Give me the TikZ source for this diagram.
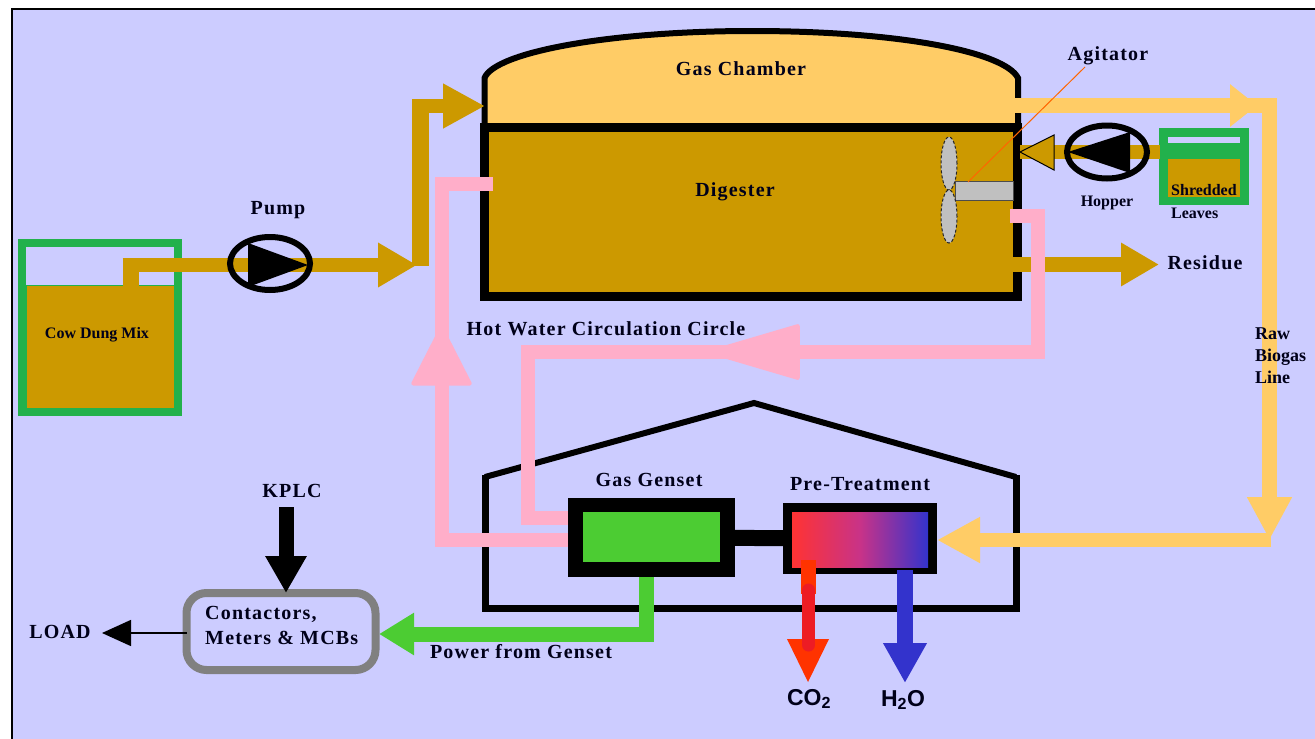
\documentclass[tikz,border=0pt]{standalone}
\usepackage{fontspec}
\setmainfont{Liberation Serif}
\setsansfont{Liberation Sans}
\usetikzlibrary{arrows.meta,positioning,shapes.geometric,calc}
\definecolor{backColor}{HTML}{CCCCFF}
\definecolor{dungColor}{HTML}{CC9900}
\definecolor{gasColor}{HTML}{FFCC66}
\definecolor{tankColor}{HTML}{22B14C}
\definecolor{powerColor}{HTML}{4CCC33}
\definecolor{hotColor}{HTML}{FFAEC9}
\definecolor{fireColor}{HTML}{FF3300}
\definecolor{redColor}{HTML}{ED1C24}
\definecolor{waterColor}{HTML}{3333CC}
\definecolor{bladeColor}{HTML}{C0C0C0}
\definecolor{mixColor}{HTML}{C83388}
\newfontface\spacedFont[LetterSpace=6]{Liberation Serif Bold}
\tikzset{
	lab/.style={font=\fontsize{20}{25}\spacedFont, inner sep=0pt, text=black!90!blue},
	small lab/.style={lab, font=\fontsize{16}{22}\selectfont\bfseries},
	raw lab/.style={lab, font=\fontsize{18}{22}\selectfont\bfseries},
	gas lab/.style={lab, font=\fontsize{23}{25}\selectfont\sffamily\bfseries},
	box/.style={rectangle, inner sep=0pt, outer sep=0pt},
	pump/.style={ellipse, draw=black, line width=6pt, minimum width=80pt, minimum height=53pt, inner sep=0pt},
	blade/.style={ellipse, draw=black!85, fill=bladeColor, line width=1pt, densely dashed, minimum width=16pt, minimum height=53pt, inner sep=0pt},
	pipe/.style={line width=#1, line join=miter},
	head/.style args={#1 by #2}{-{Triangle[length=#1,width=#2]}},
	soft head/.style args={#1 by #2}{-{Triangle[length=#1,width=#2,round,line width=4pt]}}
}
\begin{document}
\begin{tikzpicture}[x=1pt,y=-1pt]
	\useasboundingbox (0,0) rectangle (1315,739);
	\path[fill=backColor, draw=black, line width=2pt] (12,9) rectangle (1325,749);
	% tanks
	\node[box, draw=tankColor, line width=8pt, minimum width=156pt, minimum height=169pt] at (100,327.5) (cowTank) {};
	\node[box, fill=dungColor, draw=tankColor, line width=.5pt, minimum width=148pt, minimum height=123pt] at (100,346.5) (cowMix) {};
	\node[box, fill=tankColor, minimum width=90pt, minimum height=77pt] at (1204,166.5) (leafTank) {};
	\node[box, fill=backColor, minimum width=72pt, minimum height=6pt] at (1204,140) (leafGap) {};
	\node[box, fill=dungColor, minimum width=72pt, minimum height=38pt] at (1204,178) (leafMix) {};
	% chamber and digester
	\path[fill=gasColor, draw=black, line width=6pt] (484.5,127) -- (484.5,78) .. controls (495,52) and (610,31) .. (752,31) .. controls (900,31) and (1005,52) .. (1018,78) -- (1018,127);
	\node[box, fill=dungColor, draw=black, line width=9pt, minimum width=533pt, minimum height=169pt] at (751,212) (digester) {};
	\node[box, fill=bladeColor, draw=black!70, line width=1pt, minimum width=58pt, minimum height=19pt] at (984,190.5) (shaft) {};
	\node[blade] at (949,163.5) (bladeUp) {};
	\node[blade] at (949,216.5) (bladeDown) {};
	% house
	\draw[line width=7pt, line join=miter] (485,475) -- (485,608.5) -- (1016,608.5) -- (1016,475);
	\draw[line width=6pt] (485,477) -- (754,403) -- (1016,477);
	% genset and treatment
	\node[box, fill=black, minimum width=167pt, minimum height=79pt] at (651.5,537.5) (genset) {};
	\node[box, fill=powerColor, minimum width=137pt, minimum height=50pt] at (651.5,537) (gensetIn) {};
	\node[box, fill=black, minimum width=154pt, minimum height=71pt] at (860,538.5) (treat) {};
	\node[box, left color=red!80!white, right color=waterColor, middle color=mixColor, minimum width=136pt, minimum height=55pt] at (860,539.5) (treatIn) {};
	\draw[pipe=16pt] (genset) -- (treat);
	% panel
	\node[box, draw=gray, line width=8pt, rounded corners=20pt, minimum width=189pt, minimum height=77pt] at (281,631.5) (panel) {};
	% ports
	\coordinate (cowOut) at (130.5,291);
	\coordinate (cowUp) at (130.5,265);
	\coordinate (feedTee) at (417,265);
	\coordinate (feedUp) at (420.5,266);
	\coordinate (feedCorner) at (420.5,99);
	\coordinate (feedStart) at (412,106);
	\coordinate (feedIn) at (485,106);
	\coordinate (gasOut) at (1012,105.5);
	\coordinate (gasEnd) at (1257,105.5);
	\coordinate (gasBend) at (1277,105.5);
	\coordinate (gasTop) at (1269.5,98);
	\coordinate (gasDown) at (1269.5,540);
	\coordinate (gasTurn) at (1271,540);
	\coordinate (treatOut) at (937,540);
	\coordinate (residueOut) at (1013,264.5);
	\coordinate (residueEnd) at (1159,264.5);
	\coordinate (leafOut) at (1160,152);
	\coordinate (leafIn) at (1020,152);
	\coordinate (hotOne) at (493,183.5);
	\coordinate (hotOneBend) at (441.5,183.5);
	\coordinate (hotOneTip) at (441.5,326);
	\coordinate (hotOneMid) at (441.5,370);
	\coordinate (hotOneLow) at (441.5,540);
	\coordinate (hotOneEnd) at (568,540);
	\coordinate (hotTwo) at (1010,216);
	\coordinate (hotTwoBend) at (1038,216);
	\coordinate (hotTwoLow) at (1038,352);
	\coordinate (hotTwoTip) at (708,352);
	\coordinate (hotTwoMid) at (770,352);
	\coordinate (hotTwoLeft) at (528,352);
	\coordinate (hotTwoDown) at (528,518);
	\coordinate (hotTwoEnd) at (568,518);
	\coordinate (powerOut) at (646.5,577);
	\coordinate (powerBend) at (646.5,634);
	\coordinate (panelIn) at (379,634);
	\coordinate (fireOut) at (808,560);
	\coordinate (fireEnd) at (808,682);
	\coordinate (fireLow) at (808,594);
	\coordinate (fireTail) at (808.5,590);
	\coordinate (fireBase) at (808.5,645);
	\coordinate (waterOut) at (905,570);
	\coordinate (waterEnd) at (905,683);
	\coordinate (kplcIn) at (286,507);
	\coordinate (loadEnd) at (102,633);
	% brown lines
	\draw[pipe=16pt, dungColor] (cowOut) -- (cowUp);
	\draw[pipe=14pt, dungColor, head=39pt by 42pt] (122.5,265) -- (feedTee);
	\draw[pipe=17pt, dungColor] (feedUp) -- (feedCorner);
	\draw[pipe=14pt, dungColor, head=42pt by 42pt] (feedStart) -- (feedIn);
	\draw[pipe=15pt, dungColor, head=38pt by 41pt] (residueOut) -- (residueEnd);
	\draw[pipe=14pt, dungColor] (leafOut) -- (leafIn);
	\draw[fill=dungColor, draw=black, line width=1pt] (leafIn) -- (1054,135) -- (1054,170) -- cycle;
	% gas line
	\draw[pipe=15pt, gasColor] (gasOut) -- (gasBend);
	\draw[pipe=15pt, gasColor, head=27pt by 41pt] (gasOut) -- (gasEnd);
	\draw[pipe=15pt, gasColor, head=43pt by 42pt] (gasTop) -- (gasDown);
	\draw[pipe=14pt, gasColor, head=43pt by 43pt] (gasTurn) -- (treatOut);
	% hot water lines
	\draw[pipe=14pt, hotColor] (hotOne) -- (hotOneBend) -- (hotOneMid);
	\draw[pipe=14pt, hotColor, soft head=62pt by 62pt] (hotOneEnd) -- (hotOneLow) -- (hotOneTip);
	\draw[pipe=14pt, hotColor, soft head=97pt by 56pt] (hotTwo) -- (hotTwoBend) -- (hotTwoLow) -- (hotTwoTip);
	\draw[pipe=14pt, hotColor] (hotTwoMid) -- (hotTwoLeft) -- (hotTwoDown) -- (hotTwoEnd);
	% power and outlets
	\draw[pipe=15pt, powerColor, head=35pt by 40pt] (powerOut) -- (powerBend) -- (panelIn);
	\draw[pipe=15pt, fireColor] (fireOut) -- (fireLow);
	\path[fill=fireColor] (787,639) -- (829,639) -- (fireEnd) -- cycle;
	\draw[pipe=13pt, redColor, line cap=round] (fireTail) -- (fireBase);
	\draw[pipe=16pt, waterColor, head=40pt by 41pt] (waterOut) -- (waterEnd);
	\draw[pipe=15pt, black, head=37pt by 39pt] (kplcIn) -- (kplcIn |- panel.north);
	\draw[line width=1.5pt, -{Triangle[length=29pt,width=26pt]}] (panel.west |- loadEnd) -- (loadEnd);
	% pumps
	\node[pump] at (270,263.5) (feedPump) {};
	\fill (248,243) -- (308,265) -- (248,287) -- cycle;
	\node[pump] at (1107,152) (hopperPump) {};
	\fill (1068,152) -- (1130,132) -- (1130,173) -- cycle;
	% agitator pointer
	\draw[draw=orange!80!red, line width=1pt] (1085,67) -- (968,182);
	% labels
	\node[lab] at (741,69) (gasLab) {Gas Chamber};
	\node[lab] at (735,192) (digLab) {Digester};
	\node[lab] at (1108,56) (agiLab) {Agitator};
	\node[lab] at (278,210) (pumpLab) {Pump};
	\node[small lab] at (97,335) (cowLab) {Cow Dung Mix};
	\node[small lab] at (1107,203) (hopLab) {Hopper};
	\node[small lab, anchor=west] at (1171,190) (leafLabA) {Shredded};
	\node[small lab, anchor=west] at (1171,213) (leafLabB) {Leaves};
	\node[lab] at (1205,263) (resLab) {Residue};
	\node[raw lab, anchor=north west, align=left] at (1255,328) (rawLab) {Raw\\Biogas\\Line};
	\node[lab] at (606,329) (hotLab) {Hot Water Circulation Circle};
	\node[lab] at (649,480) (gensetLab) {Gas Genset};
	\node[lab] at (860,484) (treatLab) {Pre-Treatment};
	\node[lab] at (521,652) (powerLab) {Power from Genset};
	\node[lab] at (292,491) (kplcLab) {KPLC};
	\node[lab] at (60,632) (loadLab) {LOAD};
	\node[lab, anchor=north west, align=left] at (205,606) (panelLab) {Contactors,\\Meters \& MCBs};
	\node[gas lab] at (809,699) (coLab) {CO\textsubscript{2}};
	\node[gas lab] at (903,700) (waterLab) {H\textsubscript{2}O};
\end{tikzpicture}
\end{document}
